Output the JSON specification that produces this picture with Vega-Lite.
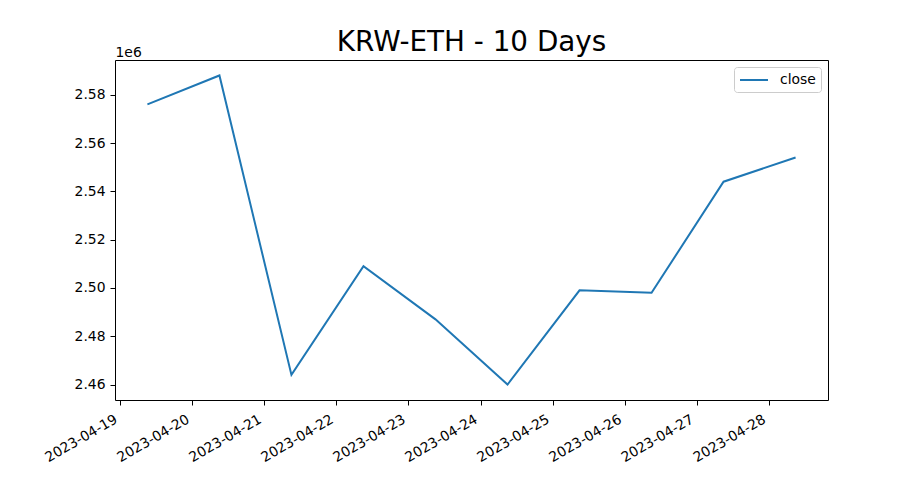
{
  "$schema": "https://vega.github.io/schema/vega-lite/v6.json",
  "autosize": "none",
  "width": 713,
  "height": 340,
  "padding": {"left": 115, "top": 60, "right": 91, "bottom": 100},
  "background": "white",
  "title": {
    "text": "KRW-ETH - 10 Days",
    "font": "DejaVu Sans",
    "fontSize": 27.8,
    "fontWeight": "normal",
    "color": "black",
    "anchor": "middle",
    "offset": -12
  },
  "data": {
    "values": [
      {"date": "2023-04-19T09:00:00", "close": 2576000, "series": "close"},
      {"date": "2023-04-20T09:00:00", "close": 2588000, "series": "close"},
      {"date": "2023-04-21T09:00:00", "close": 2464000, "series": "close"},
      {"date": "2023-04-22T09:00:00", "close": 2509000, "series": "close"},
      {"date": "2023-04-23T09:00:00", "close": 2487000, "series": "close"},
      {"date": "2023-04-24T09:00:00", "close": 2460000, "series": "close"},
      {"date": "2023-04-25T09:00:00", "close": 2499000, "series": "close"},
      {"date": "2023-04-26T09:00:00", "close": 2498000, "series": "close"},
      {"date": "2023-04-27T09:00:00", "close": 2544000, "series": "close"},
      {"date": "2023-04-28T09:00:00", "close": 2554000, "series": "close"}
    ]
  },
  "mark": {"type": "line", "strokeWidth": 2},
  "encoding": {
    "x": {
      "field": "date",
      "type": "temporal",
      "scale": {
        "domain": [
          {"year": 2023, "month": 4, "date": 18, "hours": 22, "minutes": 12},
          {"year": 2023, "month": 4, "date": 28, "hours": 19, "minutes": 48}
        ]
      },
      "axis": {
        "title": null,
        "values": [
          {"year": 2023, "month": 4, "date": 19},
          {"year": 2023, "month": 4, "date": 20},
          {"year": 2023, "month": 4, "date": 21},
          {"year": 2023, "month": 4, "date": 22},
          {"year": 2023, "month": 4, "date": 23},
          {"year": 2023, "month": 4, "date": 24},
          {"year": 2023, "month": 4, "date": 25},
          {"year": 2023, "month": 4, "date": 26},
          {"year": 2023, "month": 4, "date": 27},
          {"year": 2023, "month": 4, "date": 28}
        ],
        "format": "%Y-%m-%d",
        "labelAngle": -30,
        "labelAlign": "right",
        "labelBaseline": "top",
        "labelPadding": 7,
        "labelOffset": -8,
        "grid": false,
        "domain": false,
        "tickColor": "black",
        "tickSize": 5,
        "labelFont": "DejaVu Sans",
        "labelFontSize": 13.9,
        "labelColor": "black",
        "labelFlush": false,
        "labelOverlap": false
      }
    },
    "y": {
      "field": "close",
      "type": "quantitative",
      "scale": {"domain": [2453600, 2594400], "zero": false, "nice": false},
      "axis": {
        "title": "1e6",
        "titleAngle": 0,
        "titleX": 0,
        "titleY": -4,
        "titleAlign": "left",
        "titleBaseline": "alphabetic",
        "titleFont": "DejaVu Sans",
        "titleFontSize": 13.9,
        "titleFontWeight": "normal",
        "titleColor": "black",
        "values": [2460000, 2480000, 2500000, 2520000, 2540000, 2560000, 2580000],
        "labelExpr": "format(datum.value / 1000000, '.2f')",
        "grid": false,
        "domain": false,
        "tickColor": "black",
        "tickSize": 5,
        "labelPadding": 5,
        "labelFont": "DejaVu Sans",
        "labelFontSize": 13.9,
        "labelColor": "black"
      }
    },
    "color": {
      "field": "series",
      "type": "nominal",
      "scale": {"range": ["#1f77b4"]},
      "legend": {
        "title": null,
        "orient": "top-right",
        "offset": 7,
        "symbolType": "M-1,0H3",
        "symbolSize": 196,
        "symbolStrokeWidth": 2,
        "symbolFillColor": "transparent",
        "labelFont": "DejaVu Sans",
        "labelFontSize": 13.9,
        "labelColor": "black",
        "labelOffset": 25,
        "padding": 5,
        "fillColor": "white",
        "strokeColor": "#cccccc",
        "cornerRadius": 3
      }
    }
  },
  "config": {
    "view": {"stroke": "black", "strokeWidth": 1}
  }
}
